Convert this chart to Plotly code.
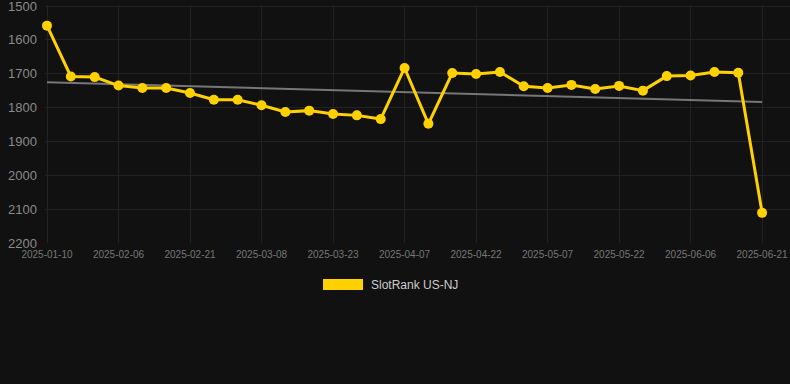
import numpy as np
import plotly.graph_objects as go

dates = ["2025-01-10", "2025-01-27", "2025-02-01", "2025-02-06", "2025-02-11", "2025-02-16",
         "2025-02-21", "2025-02-26", "2025-03-03", "2025-03-08", "2025-03-13", "2025-03-18",
         "2025-03-23", "2025-03-28", "2025-04-02", "2025-04-07", "2025-04-12", "2025-04-17",
         "2025-04-22", "2025-04-27", "2025-05-02", "2025-05-07", "2025-05-12", "2025-05-17",
         "2025-05-22", "2025-05-27", "2025-06-01", "2025-06-06", "2025-06-11", "2025-06-16",
         "2025-06-21"]
ranks = [1558, 1708, 1710, 1735, 1742, 1742, 1757, 1777, 1777, 1793, 1813, 1809, 1819, 1823,
         1834, 1683, 1848, 1698, 1701, 1695, 1737, 1742, 1733, 1745, 1736, 1750, 1707, 1705,
         1695, 1697, 2111]
tick_dates = dates[::3]
y_ticks = [1500, 1600, 1700, 1800, 1900, 2000, 2100, 2200]
series_name = "SlotRank US-NJ"

idx = np.arange(len(ranks))
slope, intercept = np.polyfit(idx, ranks, 1)
trend = (slope * idx + intercept).tolist()

gold = "#FFD100"
fig = go.Figure()
fig.add_trace(go.Scatter(x=dates, y=trend, mode="lines",
                         line=dict(color="#777777", width=2), showlegend=False, hoverinfo="skip"))
fig.add_trace(go.Scatter(x=dates, y=ranks, mode="lines+markers", name=series_name,
                         line=dict(color=gold, width=3), marker=dict(color=gold, size=10),
                         showlegend=False, cliponaxis=False))

fig.update_layout(
    width=790, height=384,
    paper_bgcolor="#111111", plot_bgcolor="#111111",
    margin=dict(l=45, r=0, t=5, b=141),
    font=dict(family="Liberation Sans, Arial, sans-serif"),
    xaxis=dict(type="category", range=[-0.084, 31.17], tickmode="array", tickvals=tick_dates,
               ticktext=tick_dates, showgrid=True, gridcolor="#222222", gridwidth=1,
               tickfont=dict(size=10, color="#777777"), zeroline=False, showline=False,
               ticks="", ticklabelstandoff=4),
    yaxis=dict(range=[2200, 1497], tickvals=y_ticks, showgrid=True, gridcolor="#222222",
               tickfont=dict(size=13, color="#8a8a8a"), zeroline=False, showline=False,
               ticks="", ticklabelstandoff=7, ticklabeloverflow="allow"),
    shapes=[dict(type="rect", xref="paper", yref="paper", x0=(323 - 45) / 745, x1=(363 - 45) / 745,
                 y0=(384 - 141 - 290) / 238, y1=(384 - 141 - 279) / 238,
                 fillcolor=gold, line=dict(width=0))],
    annotations=[dict(text=series_name, xref="paper", yref="paper", x=(369 - 45) / 745,
                      y=(384 - 141 - 284.5) / 238, xanchor="left", yanchor="middle",
                      showarrow=False, font=dict(size=12, color="#cccccc"))],
)
fig.write_html("out.html", config={"displayModeBar": False},
               post_script="document.body.style.margin='0';document.body.style.background='#111111';")
